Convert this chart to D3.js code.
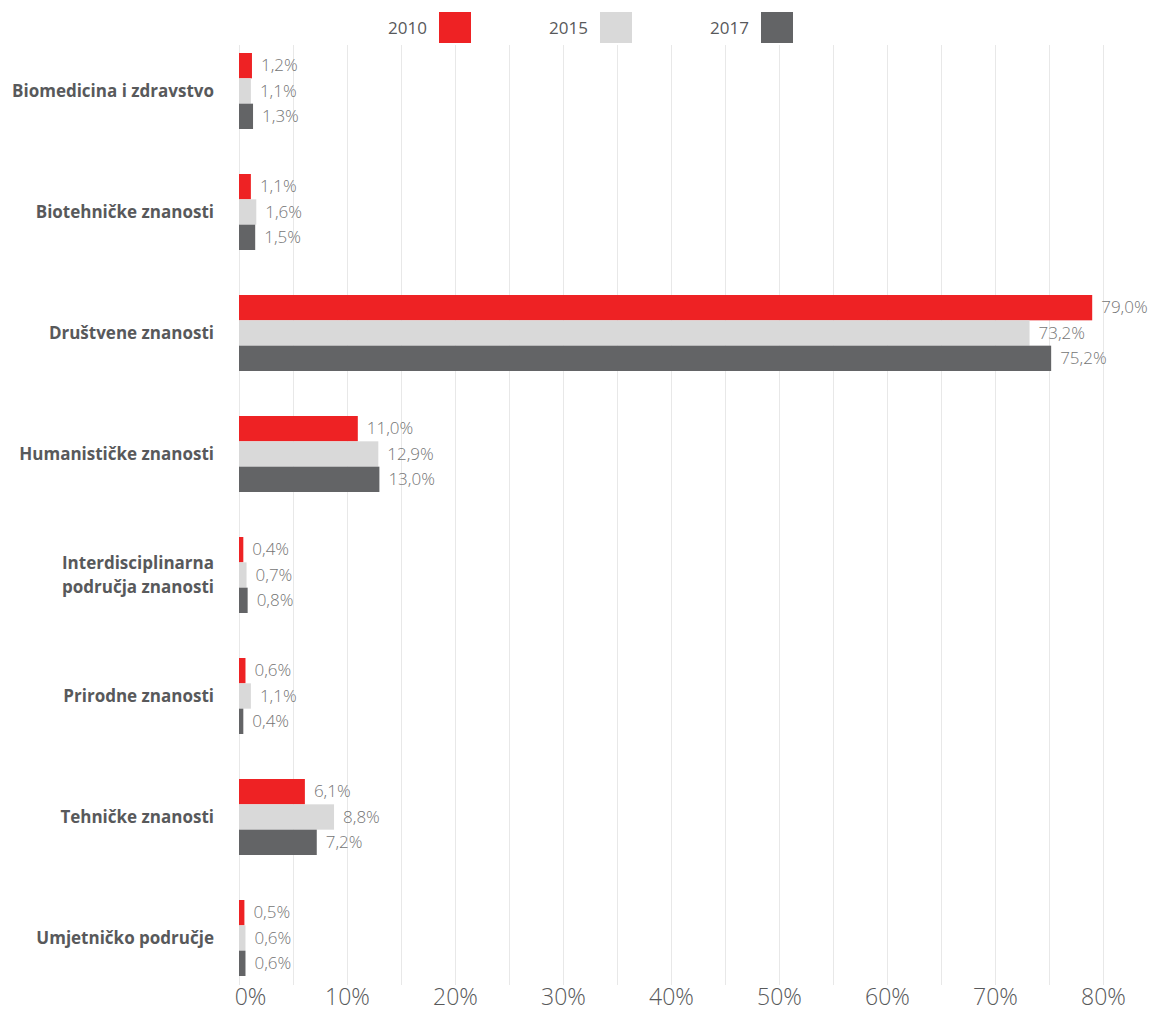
<!DOCTYPE html>
<html><head><meta charset="utf-8">
<script src="https://cdn.jsdelivr.net/npm/d3@7"></script>
<style>
body{margin:0;background:#fff;}
svg text{font-family:"Open Sans",sans-serif;}
</style></head>
<body><svg id="c" width="1154" height="1013"></svg>
<script>
const categories = ["Biomedicina i zdravstvo","Biotehničke znanosti","Društvene znanosti","Humanističke znanosti","Interdisciplinarna područja znanosti","Prirodne znanosti","Tehničke znanosti","Umjetničko područje"];
const categoryLines = [["Biomedicina i zdravstvo"],["Biotehničke znanosti"],["Društvene znanosti"],["Humanističke znanosti"],["Interdisciplinarna","područja znanosti"],["Prirodne znanosti"],["Tehničke znanosti"],["Umjetničko područje"]];
const seriesNames = ["2010","2015","2017"];
const values2010 = [1.2,1.1,79.0,11.0,0.4,0.6,6.1,0.5];
const values2015 = [1.1,1.6,73.2,12.9,0.7,1.1,8.8,0.6];
const values2017 = [1.3,1.5,75.2,13.0,0.8,0.4,7.2,0.6];
const colors = ["#ee2224","#d9d9d9","#636466"];
const tickValues = [0,10,20,30,40,50,60,70,80];
const gridValues = d3.range(0,81,5);

const series = [values2010, values2015, values2017];
const svg = d3.select("#c");
const x = d3.scaleLinear().domain([0,80]).range([239,1103]);
const y = d3.scaleBand().domain(categories).range([30.5,998.5]).padding(0);
const ys = d3.scaleBand().domain(seriesNames).range([-38,38]).padding(0);
const fmt = v => d3.format(".1f")(v).replace(".",",") + "%";

// grid
svg.append("g").selectAll("line").data(gridValues).join("line")
  .attr("x1",d=>x(d)+0.5).attr("x2",d=>x(d)+0.5)
  .attr("y1",45).attr("y2",985)
  .attr("stroke","#e8e8e8").attr("stroke-width",1);

// bars
seriesNames.forEach((s,si)=>{
  const g = svg.append("g");
  g.selectAll("rect").data(categories).join("rect")
    .attr("x",x(0))
    .attr("y",(c)=>y(c)+y.bandwidth()/2+ys(s))
    .attr("width",(c,i)=>x(series[si][i])-x(0))
    .attr("height",ys.bandwidth())
    .attr("fill",colors[si]);
  g.selectAll("text").data(categories).join("text")
    .attr("x",(c,i)=>x(series[si][i])+9)
    .attr("y",(c)=>y(c)+y.bandwidth()/2+ys(s)+ys.bandwidth()/2+1)
    .attr("dominant-baseline","middle")
    .attr("font-size",17).attr("font-weight",300)
    .attr("fill","#757575")
    .text((c,i)=>fmt(series[si][i]));
});

// category labels
const cl = svg.append("g").selectAll("text").data(categories).join("text")
  .attr("x",214).attr("text-anchor","end")
  .attr("font-size",17).attr("font-weight",700).attr("fill","#58595b");
cl.each(function(c,i){
  const lines = categoryLines[i];
  const t = d3.select(this);
  const cy = y(c)+y.bandwidth()/2;
  lines.forEach((l,li)=>{
    t.append("tspan").attr("x",214)
     .attr("y",cy + (li-(lines.length-1)/2)*24 + 6)
     .text(l);
  });
});

// x axis
const ax = svg.append("g").attr("transform","translate(0,985)")
  .call(d3.axisBottom(x).tickValues(tickValues).tickSize(0).tickPadding(0).tickFormat(d=>d+"%"));
ax.select(".domain").remove();
ax.selectAll("text").attr("font-size",23).attr("font-weight",300).attr("fill","#58595b")
  .attr("font-family","'Open Sans',sans-serif")
  .attr("y",20).attr("dy",0)
  .attr("dx",d=>d===0?11:0);

// legend
const lx = [427,588,749];
const lg = svg.append("g");
seriesNames.forEach((s,i)=>{
  lg.append("text").attr("x",lx[i]).attr("y",34).attr("text-anchor","end")
    .attr("font-size",17).attr("font-weight",400).attr("fill","#58595b").text(s);
  lg.append("rect").attr("x",lx[i]+12).attr("y",12).attr("width",32).attr("height",31).attr("fill",colors[i]);
});
</script></body></html>
